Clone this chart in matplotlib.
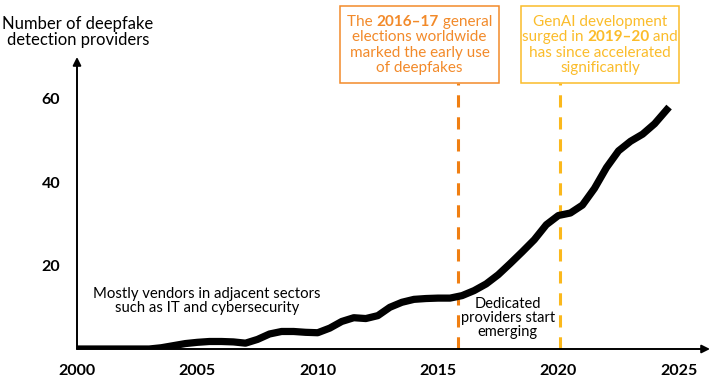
import matplotlib
matplotlib.use("Agg")
import matplotlib.pyplot as plt
from matplotlib.patches import Rectangle

plt.rcParams['font.family'] = ['Lato', 'DejaVu Sans']

# values (number of providers by year)
years = [2000, 2001, 2002, 2003, 2003.5, 2004, 2004.5, 2005, 2005.5, 2006,
         2006.5, 2007, 2007.5, 2008, 2008.5, 2009, 2009.5, 2010, 2010.5, 2011,
         2011.5, 2012, 2012.5, 2013, 2013.5, 2014, 2014.5, 2015, 2015.5, 2016,
         2016.5, 2017, 2017.5, 2018, 2018.5, 2019, 2019.5, 2020, 2020.5, 2021,
         2021.5, 2022, 2022.5, 2023, 2023.5, 2024, 2024.6]
providers = [0, 0, 0, 0, 0.3, 0.8, 1.3, 1.6, 1.8, 1.8,
             1.7, 1.4, 2.3, 3.6, 4.2, 4.2, 4.0, 3.9, 5.0, 6.6,
             7.5, 7.3, 8.0, 10.0, 11.2, 11.9, 12.1, 12.2, 12.2, 12.8,
             14.0, 15.6, 17.8, 20.5, 23.3, 26.2, 29.8, 32.0, 32.6, 34.5,
             38.5, 43.5, 47.5, 49.8, 51.5, 54.0, 58.0]

xticks = [2000, 2005, 2010, 2015, 2020, 2025]
yticks = [20, 40, 60]
event_years = [2015.85, 2020.07]

ORANGE = '#F28A2A'
ORANGE_LINE = '#F07F12'
YELLOW = '#FBBC2A'
YELLOW_LINE = '#FBB81C'

W, H = 720, 391
fig = plt.figure(figsize=(W / 100, H / 100), dpi=100)
ax = fig.add_axes([77 / W, 42 / H, 633 / W, 292 / H])
ax.set_xlim(2000, 2026.3)
ax.set_ylim(0, 70)
for s in ax.spines.values():
    s.set_visible(False)
ax.set_xticks(xticks)
ax.set_xticklabels([str(t) for t in xticks], fontsize=11.5, fontweight='bold')
ax.set_yticks(yticks)
ax.set_yticklabels([str(t) for t in yticks], fontsize=11.5, fontweight='bold')
ax.tick_params(length=0, pad=11)
ax.tick_params(axis='y', pad=12)

# arrow axes
ax.annotate('', xy=(0, 1), xytext=(0, 0), xycoords='axes fraction',
            arrowprops=dict(arrowstyle='-|>', lw=1.4, color='black',
                            mutation_scale=12, shrinkA=0, shrinkB=0))
ax.annotate('', xy=(1, 0), xytext=(0, 0), xycoords='axes fraction',
            arrowprops=dict(arrowstyle='-|>', lw=1.4, color='black',
                            mutation_scale=12, shrinkA=0, shrinkB=0))

ax.plot(years, providers, color='black', lw=5.2, solid_capstyle='butt',
        solid_joinstyle='round', zorder=3)

# dashed event lines, from box bottom down to axis
top_val = (349 - 83) / 292 * 70
for yr, c in zip(event_years, [ORANGE_LINE, YELLOW_LINE]):
    ax.plot([yr, yr], [0, top_val], color=c, lw=2.2, dashes=(4, 3.2),
            clip_on=False, zorder=2)


def fx(x):
    return x / W


def fy(y):
    return 1 - y / H


fig.text(fx(78), fy(32), 'Number of deepfake\ndetection providers',
         ha='center', va='center', fontsize=12, linespacing=1.0)

ax.text(2005.4, 11.4, 'Mostly vendors in adjacent sectors\nsuch as IT and cybersecurity',
        ha='center', va='center', fontsize=10.7, linespacing=1.0)
ax.text(2017.9, 7.4, 'Dedicated\nproviders start\nemerging',
        ha='center', va='center', fontsize=10.5, linespacing=1.0)

renderer = fig.canvas.get_renderer()


def rich_line(segments, cx, cy, color, size=11):
    texts = []
    widths = []
    for s, bold in segments:
        t = fig.text(0, fy(cy), s, color=color, fontsize=size,
                     fontweight='bold' if bold else 'normal', va='center', ha='left')
        texts.append(t)
        widths.append(t.get_window_extent(renderer).width)
    x = cx - sum(widths) / 2
    for t, w in zip(texts, widths):
        t.set_x(fx(x))
        x += w


def box(x0, y0, x1, y1, color):
    fig.patches.append(Rectangle((fx(x0), fy(y1)), fx(x1) - fx(x0), fy(y0) - fy(y1),
                                 transform=fig.transFigure, fill=False,
                                 edgecolor=color, lw=1.1))


box(340, 6, 499, 83, ORANGE)
orange_lines = [
    [('The ', False), ('2016\u201317', True), (' general', False)],
    [('elections worldwide', False)],
    [('marked the early use', False)],
    [('of deepfakes', False)],
]
for i, segs in enumerate(orange_lines):
    rich_line(segs, 419.5, 22 + i * 15.3, ORANGE)

box(521, 6, 679, 83, YELLOW)
yellow_lines = [
    [('GenAI development', False)],
    [('surged in ', False), ('2019\u201320', True), (' and', False)],
    [('has since accelerated', False)],
    [('significantly', False)],
]
for i, segs in enumerate(yellow_lines):
    rich_line(segs, 600, 22 + i * 15.3, YELLOW)

fig.savefig('out.png', dpi=100)
